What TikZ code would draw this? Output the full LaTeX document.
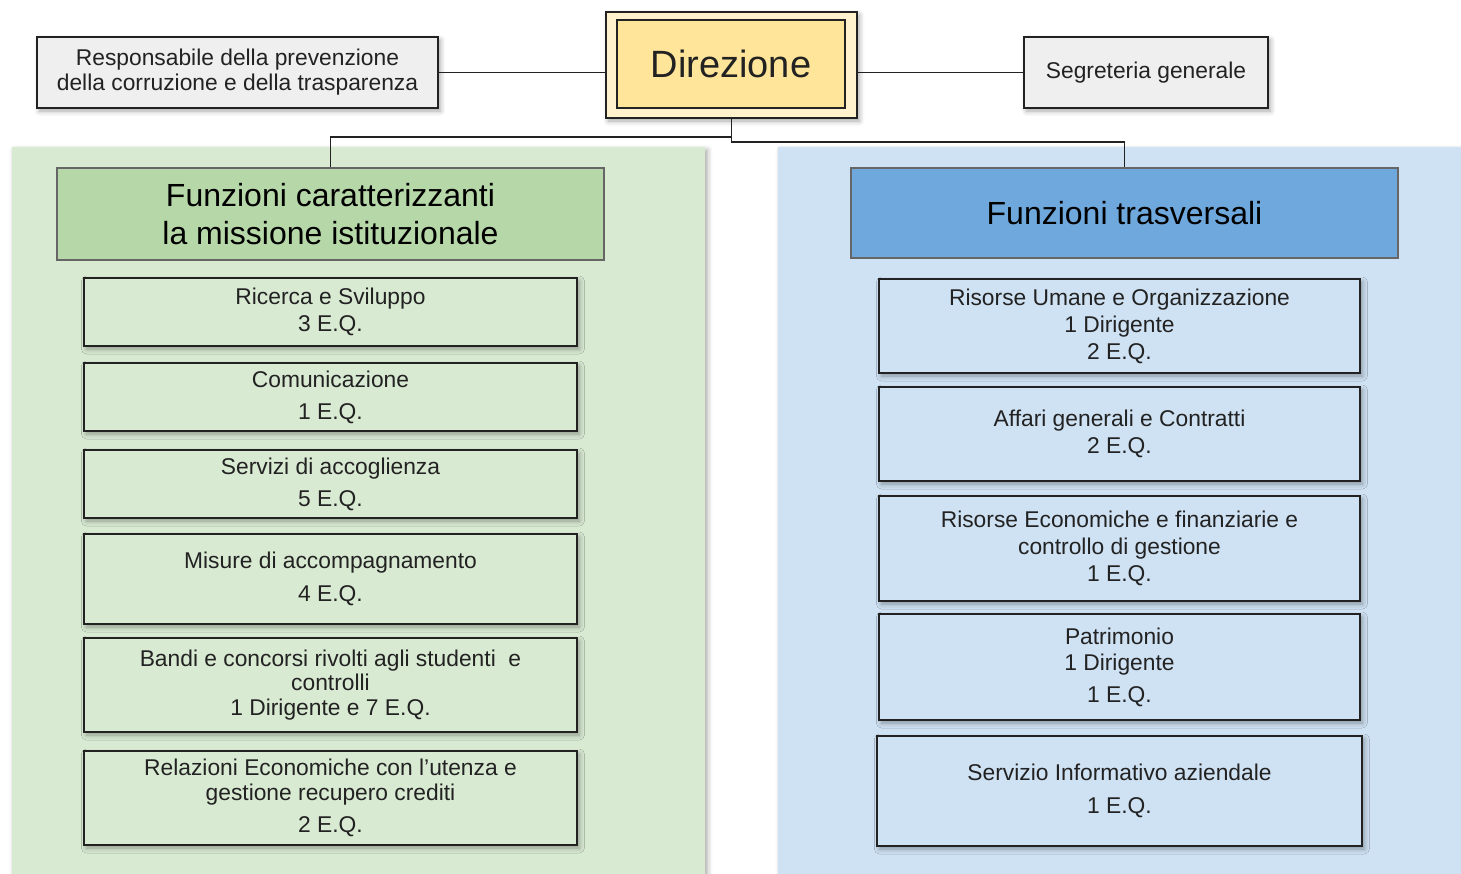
\documentclass[tikz,border=0pt]{standalone}
\usepackage{fontspec}
\setmainfont{Liberation Sans}
\usetikzlibrary{shadows,shadows.blur}
\definecolor{panelgreen}{HTML}{D9EAD3}
\definecolor{headgreen}{HTML}{B6D7A8}
\definecolor{panelblue}{HTML}{CFE2F3}
\definecolor{headblue}{HTML}{6FA8DC}
\definecolor{boxgrey}{HTML}{EFEFEF}
\definecolor{dirouter}{HTML}{FFF2CC}
\definecolor{dirinner}{HTML}{FFE599}
\definecolor{ink}{HTML}{222222}
\definecolor{headline}{HTML}{666666}
\tikzset{
  shd/.style={blur shadow={shadow xshift=1.2pt, shadow yshift=-1.5pt, shadow blur radius=2.5pt, shadow opacity=35}},
  unitbox/.style={draw=ink, line width=1pt, rectangle, inner sep=0pt, align=center, text=ink,
    font=\fontsize{11.4}{13}\selectfont, shd},
  lbox/.style={unitbox, fill=panelgreen, minimum width=246.5pt},
  rbox/.style={unitbox, fill=panelblue, minimum width=240.5pt},
  topbox/.style={unitbox, fill=boxgrey},
  headbox/.style={draw=headline, line width=0.7pt, rectangle, inner sep=0pt, align=center, text=black,
    font=\fontsize{16}{19}\selectfont},
  panel/.style={draw=none, shd},
  conn/.style={draw=ink, line width=0.8pt},
}
\begin{document}
\begin{tikzpicture}[x=0.5pt, y=-0.5pt]
\useasboundingbox (0,0) rectangle (1461,873);
% panels
\path[panel, fill=panelgreen] (12,147) rectangle (705,900);
\path[panel, fill=panelblue] (778,147) rectangle (1480,900);

% top row
\node[draw=ink, line width=1pt, fill=dirouter, minimum width=125.5pt, minimum height=53pt, inner sep=0pt, shd] (dir) at (731.5,65) {};
\node[draw=ink, line width=1pt, fill=dirinner, minimum width=114pt, minimum height=44pt, inner sep=0pt,
  font=\fontsize{19}{22}\selectfont, text=ink] (dirin) at (731,64) {Direzione};
\node[topbox, minimum width=200.5pt, minimum height=35.5pt, font=\fontsize{11.4}{12.5}\selectfont] (resp) at (237.5,72.5)
  {Responsabile della prevenzione\\della corruzione e della trasparenza};
\node[topbox, minimum width=122pt, minimum height=35.5pt] (segr) at (1146,72.5) {Segreteria generale};

% headings
\node[headbox, fill=headgreen, minimum width=273.5pt, minimum height=46pt] (hgreen) at (330.5,214)
  {Funzioni caratterizzanti\\la missione istituzionale};
\node[headbox, fill=headblue, minimum width=273.5pt, minimum height=45pt] (hblue) at (1124.5,213)
  {Funzioni trasversali};

% connectors
\draw[conn] (resp.east) -- (resp.east -| dir.west);
\draw[conn] (dir.east |- segr.west) -- (segr.west);
\coordinate (jr) at (731.5,142);
\coordinate (jl) at (731.5,137);
\draw[conn] (dir.south) -- (jr) -| (hblue.north);
\draw[conn] (jl) -| (hgreen.north);

% left boxes
\node[lbox, minimum height=34pt] (l1) at (330.5,312)
  {Ricerca e Sviluppo\\[0.5pt]3 E.Q.};
\node[lbox, minimum height=34pt] (l2) at (330.5,397)
  {Comunicazione\\[3pt]1 E.Q.};
\node[lbox, minimum height=34pt] (l3) at (330.5,484)
  {Servizi di accoglienza\\[3pt]5 E.Q.};
\node[lbox, minimum height=45pt] (l4) at (330.5,579)
  {Misure di accompagnamento\\[3.5pt]4 E.Q.};
\node[lbox, minimum height=47pt, font=\fontsize{11.4}{12.4}\selectfont] (l5) at (330.5,685)
  {Bandi e concorsi rivolti agli studenti\ \ e\\controlli\\1 Dirigente e 7 E.Q.};
\node[lbox, minimum height=47pt, font=\fontsize{11.4}{12.5}\selectfont] (l6) at (330.5,798)
  {Relazioni Economiche con l'utenza e\\gestione recupero crediti\\[3.5pt]2 E.Q.};

% right boxes
\node[rbox, minimum height=47pt, font=\fontsize{11.4}{13.5}\selectfont] (r1) at (1119.5,326)
  {Risorse Umane e Organizzazione\\1 Dirigente\\2 E.Q.};
\node[rbox, minimum height=47pt, font=\fontsize{11.4}{13.5}\selectfont] (r2) at (1119.5,434)
  {Affari generali e Contratti\\2 E.Q.};
\node[rbox, minimum height=52.5pt, font=\fontsize{11.4}{13.5}\selectfont] (r3) at (1119.5,548.5)
  {Risorse Economiche e finanziarie e\\controllo di gestione\\1 E.Q.};
\node[rbox, minimum height=53pt] (r4) at (1119.5,667)
  {Patrimonio\\1 Dirigente\\[3pt]1 E.Q.};
\node[rbox, minimum width=242.5pt, minimum height=55pt] (r5) at (1119.5,791)
  {Servizio Informativo aziendale\\[3.5pt]1 E.Q.};
\end{tikzpicture}
\end{document}
